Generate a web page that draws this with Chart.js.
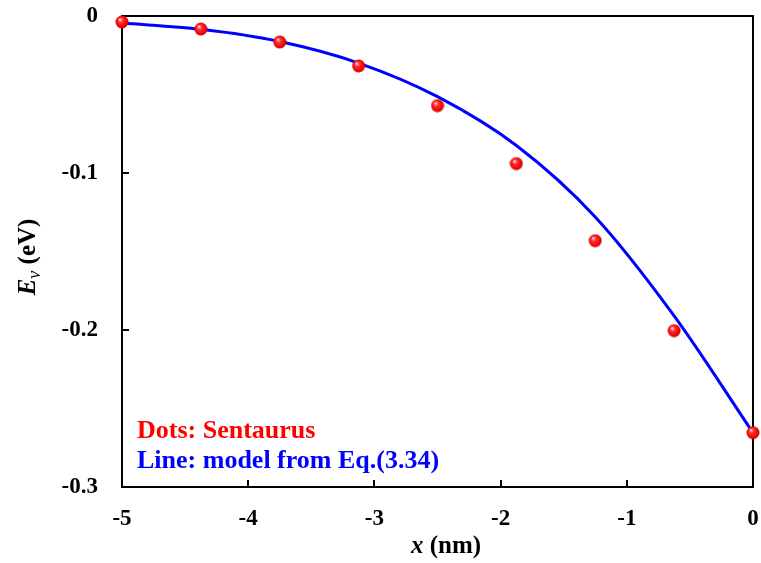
<!DOCTYPE html>
<html>
<head>
<title>Ev vs x</title>
<script src="https://cdn.jsdelivr.net/npm/chart.js@4.4.0/dist/chart.umd.min.js"></script>
<style>
body{margin:0;background:#fff;}
#wrap{width:761px;height:563px;}
</style>
</head>
<body>
<div id="wrap"><canvas id="myChart" width="761" height="563"></canvas></div>
<script>
// Sentaurus dots
var xDots=[-5,-4.375,-3.75,-3.125,-2.5,-1.875,-1.25,-0.625,0];
var evDots=[-0.0038,-0.0083,-0.0166,-0.0318,-0.0571,-0.094,-0.1431,-0.2004,-0.2654];
// model line, Eq.(3.34)
var xLine=[-5,-4.375,-3.75,-3.125,-2.5,-1.875,-1.25,-0.625,0];
var evLine=[-0.0045,-0.0085,-0.0163,-0.030,-0.0514,-0.0825,-0.128,-0.191,-0.2654];
var xTicks=[-5,-4,-3,-2,-1,0];
var yTicks=[0,-0.1,-0.2,-0.3];

var FONT='"Liberation Serif","Times New Roman",serif';

// little shaded red ball for the dots
function ball(){
  var c=document.createElement('canvas');
  c.width=14;c.height=14;
  var g=c.getContext('2d');
  var grad=g.createRadialGradient(5,4.5,0.5,7,7,7);
  grad.addColorStop(0,'#ffd0d0');
  grad.addColorStop(0.3,'#ff3030');
  grad.addColorStop(0.8,'#ee0000');
  grad.addColorStop(1,'#b00000');
  g.fillStyle=grad;
  g.beginPath();g.arc(7,7,6.5,0,Math.PI*2);g.fill();
  return c;
}

function pts(xs,ys){
  var out=[];
  for(var i=0;i<xs.length;i++) out.push({x:xs[i],y:ys[i]});
  return out;
}

var framePlugin={
  id:'frame',
  beforeDatasetsDraw:function(chart){
    var ctx=chart.ctx,a=chart.chartArea,xs=chart.scales.x,ys=chart.scales.y;
    ctx.save();
    ctx.strokeStyle='#000';ctx.lineWidth=2;
    ctx.strokeRect(a.left,a.top,a.right-a.left,a.bottom-a.top);
    ctx.beginPath();
    xTicks.forEach(function(v){
      var px=Math.round(xs.getPixelForValue(v));
      ctx.moveTo(px,a.bottom);ctx.lineTo(px,a.bottom-7);
    });
    yTicks.forEach(function(v){
      var py=Math.round(ys.getPixelForValue(v));
      ctx.moveTo(a.left,py);ctx.lineTo(a.left+7,py);
    });
    ctx.stroke();
    ctx.restore();
  },
  afterDraw:function(chart){
    var ctx=chart.ctx;
    ctx.save();
    ctx.textBaseline='alphabetic';
    // x axis title
    ctx.fillStyle='#000';
    ctx.font='italic bold 25px '+FONT;
    ctx.fillText('x',411,553);
    var w=ctx.measureText('x').width;
    ctx.font='bold 25px '+FONT;
    ctx.fillText(' (nm)',411+w,553);
    // y axis title
    ctx.translate(35,257);
    ctx.rotate(-Math.PI/2);
    ctx.font='italic bold 25px '+FONT;
    var wE=ctx.measureText('E').width;
    ctx.font='italic 18px '+FONT;
    var wv=ctx.measureText('v').width;
    ctx.font='bold 25px '+FONT;
    var wr=ctx.measureText(' (eV)').width;
    var x0=-(wE+wv+wr)/2;
    ctx.font='italic bold 25px '+FONT;
    ctx.fillText('E',x0,0);
    ctx.font='italic 18px '+FONT;
    ctx.fillText('v',x0+wE,5);
    ctx.font='bold 25px '+FONT;
    ctx.fillText(' (eV)',x0+wE+wv,0);
    ctx.setTransform(1,0,0,1,0,0);
    // in-plot labels
    ctx.font='bold 26px '+FONT;
    ctx.fillStyle='#ff0000';
    ctx.fillText('Dots: Sentaurus',137,438);
    ctx.fillStyle='#0000ff';
    ctx.fillText('Line: model from Eq.(3.34)',137,468);
    ctx.restore();
  }
};

var tickFont={family:FONT,weight:'bold',size:23};

new Chart(document.getElementById('myChart'),{
  type:'scatter',
  data:{
    datasets:[
      {label:'Dots: Sentaurus',data:pts(xDots,evDots),showLine:false,
       pointStyle:ball(),pointRadius:7,clip:false},
      {label:'Line: model from Eq.(3.34)',data:pts(xLine,evLine),showLine:true,
       borderColor:'#0000ff',borderWidth:3,pointRadius:0,
       cubicInterpolationMode:'monotone',fill:false}
    ]
  },
  options:{
    responsive:false,
    animation:false,
    devicePixelRatio:1,
    layout:{padding:{top:16,right:7,left:0,bottom:0}},
    plugins:{legend:{display:false},tooltip:{enabled:false}},
    scales:{
      x:{type:'linear',min:-5,max:0,
         grid:{display:false,drawTicks:false},
         border:{display:false},
         ticks:{stepSize:1,color:'#000',font:tickFont,padding:18,maxRotation:0,
                callback:function(v){return String(+v.toFixed(1));}},
         afterFit:function(s){s.height=76;s.paddingLeft=0;s.paddingRight=0;}},
      y:{type:'linear',min:-0.3,max:0,
         grid:{display:false,drawTicks:false},
         border:{display:false},
         ticks:{stepSize:0.1,color:'#000',font:tickFont,padding:24,
                callback:function(v){return String(+v.toFixed(1));}},
         afterFit:function(s){s.width=122;s.paddingTop=0;s.paddingBottom=0;}}
    }
  },
  plugins:[framePlugin]
});
</script>
</body>
</html>
